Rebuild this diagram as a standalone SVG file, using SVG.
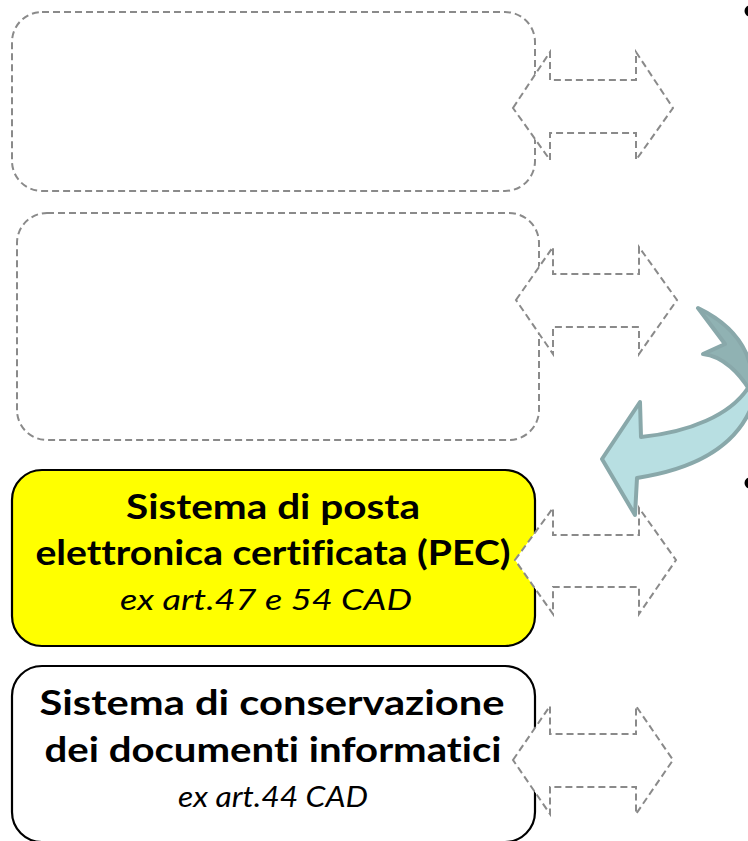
<svg xmlns="http://www.w3.org/2000/svg" width="748" height="841" viewBox="0 0 748 841">
<style>
.dbox{fill:none;stroke:#8a8a8a;stroke-width:2;stroke-dasharray:7 4}
.darr{fill:#ffffff;stroke:#8a8a8a;stroke-width:2;stroke-dasharray:7 4;stroke-linejoin:miter}
.sbox{stroke:#000;stroke-width:2.2}
.t1{font-family:Lato,"Open Sans","Liberation Sans",sans-serif;font-weight:bold;font-size:35px;fill:#000;text-anchor:middle;font-variant-ligatures:none}
.t2{font-family:Lato,"Open Sans","Liberation Sans",sans-serif;font-style:italic;font-size:29px;fill:#000;text-anchor:middle;font-variant-ligatures:none}
.curL{fill:#b8dfe2;stroke:#89a8aa;stroke-width:4;stroke-linejoin:round}
.curD{fill:#90b2b3;stroke:#89a8aa;stroke-width:4;stroke-linejoin:round}
</style>
<rect width="748" height="841" fill="#fff"/>
<g id="box1"><rect class="dbox" x="12" y="12" width="523" height="179" rx="30"/></g>
<g id="box2"><rect class="dbox" x="17" y="213" width="522" height="227" rx="30"/></g>
<g id="box3">
<rect class="sbox" fill="#ffff00" x="12" y="470" width="523" height="176" rx="30"/>
<text class="t1" x="273" y="519" textLength="294" lengthAdjust="spacingAndGlyphs">Sistema di posta</text>
<text class="t1" x="273" y="565" textLength="475" lengthAdjust="spacingAndGlyphs">elettronica certificata (PEC)</text>
<text class="t2" x="266" y="610" textLength="292" lengthAdjust="spacingAndGlyphs">ex art.47 e 54 CAD</text>
</g>
<g id="box4">
<rect class="sbox" fill="#ffffff" x="12" y="666" width="523" height="176" rx="30"/>
<text class="t1" x="272" y="715" textLength="465" lengthAdjust="spacingAndGlyphs">Sistema di conservazione</text>
<text class="t1" x="273" y="762" textLength="457" lengthAdjust="spacingAndGlyphs">dei documenti informatici</text>
<text class="t2" x="273" y="807" textLength="190" lengthAdjust="spacingAndGlyphs">ex art.44 CAD</text>
</g>
<g id="connectors">
<polygon class="darr" points="513,108 550,52 550,80 636,80 636,52 673,108 636,160 636,133 550,133 550,160"/>
<polygon class="darr" points="516,300 553,247 553,274 639,274 639,247 677,300 639,354 639,327 553,327 553,354"/>
<polygon class="darr" points="515,560 553,508 553,535 639,535 639,508 676,560 639,614 639,587 553,587 553,614"/>
<polygon class="darr" points="513,760 550,706 550,734 636,734 636,706 673,760 636,814 636,787 550,787 550,814"/>
</g>
<g id="curved-arrow">
<path class="curD" d="M698,308 C727,322 750,345 753,380 L753,396 C740,372 722,356 703,354 L725,344 Z"/>
<path class="curL" d="M602,459 L640,402 L641,437 C690,432 730,415 748,388 L755,397 C742,442 702,468 637,478 L635,515 Z"/>
</g>
<g id="bullets">
<circle cx="750" cy="11" r="5.5" fill="#000"/>
<circle cx="750" cy="483" r="5.5" fill="#000"/>
</g>
</svg>
